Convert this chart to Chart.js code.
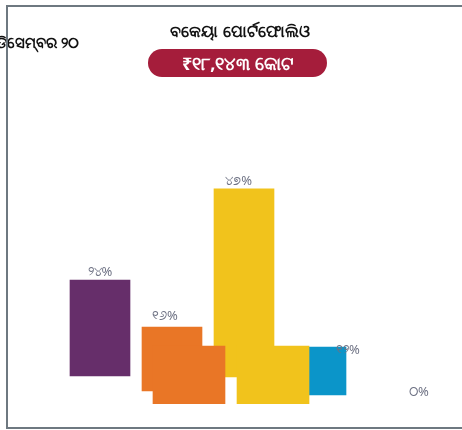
<!DOCTYPE html>
<html lang="or">
<head>
    <meta charset="UTF-8">
    <title>ବକେୟା ପୋର୍ଟଫୋଲିଓ</title>
    <script src="https://cdn.jsdelivr.net/npm/chart.js"></script>
    <style>
        body {
            margin: 0;
            background: #fff;
            font-family: "Noto Sans", "DejaVu Sans", sans-serif;
        }
        .wrap {
            position: relative;
            width: 462px;
            height: 430px;
            overflow: hidden;
        }
        canvas {
            position: absolute;
            left: 0;
            top: 0;
        }
        .frame {
            position: absolute;
            left: 6px;
            top: 5px;
            width: 460px;
            height: 420px;
            border-left: 2px solid #6e7880;
            border-top: 2px solid #6e7880;
            border-bottom: 2px solid #6e7880;
            z-index: 3;
        }
        .date {
            position: absolute;
            right: 383px;
            top: 32px;
            font-size: 15px;
            font-weight: bold;
            color: #111;
            white-space: nowrap;
            z-index: 2;
        }
        .title {
            position: absolute;
            left: 140px;
            width: 200px;
            top: 20px;
            text-align: center;
            font-size: 16px;
            font-weight: bold;
            color: #111;
            z-index: 2;
        }
        .pill {
            position: absolute;
            left: 148px;
            top: 49px;
            width: 179px;
            height: 28px;
            line-height: 28px;
            border-radius: 14px;
            background: #a51d3b;
            color: #fff;
            text-align: center;
            font-size: 18px;
            font-weight: bold;
            z-index: 2;
        }
    </style>
</head>
<body>
<div class="wrap">
    <canvas id="portfolioChart" width="462" height="430"></canvas>
    <div class="frame"></div>
    <div class="date">ଡିସେମ୍ବର ୨୦</div>
    <div class="title">ବକେୟା ପୋର୍ଟଫୋଲିଓ</div>
    <div class="pill">₹୧୮,୧୪୩ କୋଟ</div>
</div>

<script>
    // categories and shares (%)
    const categories = ['A', 'B', 'C', 'D', 'E'];
    const shares = [24, 16, 47, 12, 0];
    const shareLabels = ['୨୪%', '୧୬%', '୪୭%', '୧୨%', '୦%'];
    const barColors = ['#662e6a', '#e97626', '#f1c31c', '#0b95c9', 'rgba(0,0,0,0)'];
    // bars are lifted off the axis by different amounts in the picture
    const lift = [7, 3.25, 6.8, 2.25, 1.5];

    // the two lower blocks that sit in front of the bars
    const ghostX = [1.236, 2.403];
    const ghostH = [14.5, 14.5];
    const ghostColors = ['#e97626', '#f1c31c'];

    // where the % labels sit (category units / share units)
    const labelX = [0, 0.903, 1.924, 3.444, 4.43];
    const labelY = [33, 22, 55.75, 13.5, 3];

    const mainData = shares.map((v, i) => [lift[i], lift[i] + v]);
    const ghostData = ghostX.map((x, i) => ({ x: x, y: ghostH[i] }));

    const pctLabels = {
        id: 'pctLabels',
        afterDatasetsDraw(chart) {
            const c = chart.ctx;
            const xs = chart.scales.x2;
            const ys = chart.scales.y;
            c.save();
            c.fillStyle = '#6e7284';
            c.font = '13px "Noto Sans", "DejaVu Sans", sans-serif';
            c.textAlign = 'center';
            c.textBaseline = 'middle';
            shareLabels.forEach((t, i) => {
                c.fillText(t, xs.getPixelForValue(labelX[i]), ys.getPixelForValue(labelY[i]));
            });
            c.restore();
        }
    };

    new Chart(document.getElementById('portfolioChart'), {
        type: 'bar',
        data: {
            labels: categories,
            datasets: [
                {
                    data: mainData,
                    backgroundColor: barColors,
                    barThickness: 60,
                    grouped: false,
                    order: 2
                },
                {
                    data: ghostData,
                    backgroundColor: ghostColors,
                    barThickness: 72,
                    grouped: false,
                    xAxisID: 'x2',
                    order: 1
                }
            ]
        },
        options: {
            responsive: false,
            animation: false,
            layout: { padding: { left: 64, right: 38, top: 4, bottom: 26 } },
            plugins: {
                legend: { display: false },
                tooltip: { enabled: false }
            },
            scales: {
                x: { display: false, offset: true },
                x2: { type: 'linear', display: false, offset: false, min: -0.5, max: 4.5 },
                y: { display: false, min: 0, max: 100 }
            }
        },
        plugins: [pctLabels]
    });
</script>
</body>
</html>
